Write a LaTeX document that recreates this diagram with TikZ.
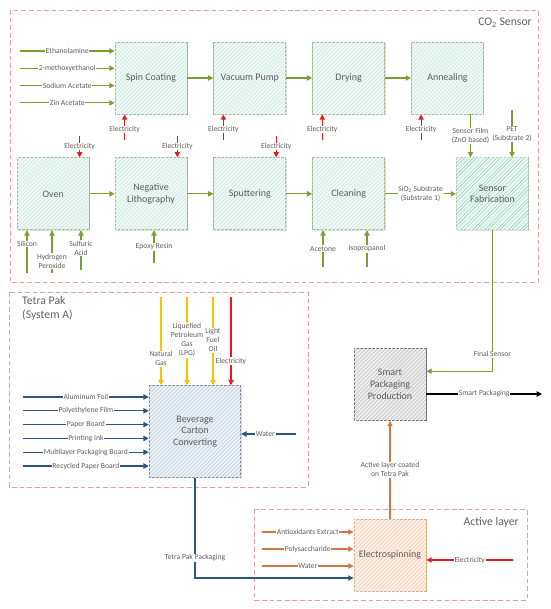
\documentclass[tikz,border=0pt]{standalone}
\usepackage{fontspec}
\setmainfont{Carlito}
\usepackage{tikz}
\usetikzlibrary{positioning,calc,arrows.meta,patterns.meta,shadows}

\definecolor{txtgray}{RGB}{95,95,95}
\definecolor{framered}{RGB}{230,160,160}
\definecolor{grnline}{RGB}{122,160,50}
\definecolor{redline}{RGB}{235,25,30}
\definecolor{bluline}{RGB}{47,85,125}
\definecolor{fuelline}{RGB}{255,192,0}
\definecolor{brnline}{RGB}{205,120,70}
\definecolor{grnfill}{RGB}{218,240,232}
\definecolor{grnbord}{RGB}{160,180,150}
\definecolor{fabfill}{RGB}{165,218,200}
\definecolor{bevfill}{RGB}{208,221,234}
\definecolor{bevbord}{RGB}{120,135,150}
\definecolor{sppfill}{RGB}{212,212,212}
\definecolor{sppbord}{RGB}{110,110,110}
\definecolor{espfill}{RGB}{250,220,200}
\definecolor{espbord}{RGB}{225,170,130}

\tikzset{
  frame/.style={draw=framered, dash pattern=on 4pt off 2.5pt, line width=0.6pt},
  title/.style={text=txtgray, font=\fontsize{10}{12}\selectfont, inner sep=0pt},
  proc/.style={draw=grnbord, line width=0.7pt, fill=grnfill, minimum size=2.16cm, inner sep=1pt,
    align=center, text=txtgray, font=\fontsize{8.5}{10.2}\selectfont,
    drop shadow={shadow xshift=0.8pt, shadow yshift=-0.8pt, opacity=0.25},
    postaction={pattern={Lines[angle=45,distance=2.4pt,line width=0.7pt]}, pattern color=white}},
  fab/.style={proc, fill=fabfill,
    postaction={pattern={Lines[angle=45,distance=1.8pt,line width=0.6pt]}, pattern color=white}},
  bev/.style={proc, draw=bevbord, fill=bevfill, minimum size=2.75cm, font=\fontsize{8.5}{9.8}\selectfont},
  spp/.style={proc, draw=sppbord, fill=sppfill},
  esp/.style={proc, draw=espbord, fill=espfill},
  lbl/.style={fill=white, inner sep=0.6pt, text=txtgray, font=\fontsize{6.5}{7.7}\selectfont, align=center},
  flow/.style={line width=0.9pt, -{Triangle[length=4.5pt,width=4.5pt]}},
  grnarrow/.style={flow, draw=grnline},
  elecarrow/.style={flow, draw=redline},
  bluarrow/.style={flow, draw=bluline},
  fuelarrow/.style={flow, draw=fuelline},
  brnarrow/.style={flow, draw=brnline},
  blkarrow/.style={flow, draw=black},
}

\begin{document}
\begin{tikzpicture}[x=0.03cm,y=-0.03cm]
\useasboundingbox (0,0) rectangle (550,609);

\draw[frame] (10,10) rectangle (538,282);
\draw[frame] (9,292) rectangle (308,487);
\draw[frame] (254,509) rectangle (527,600);
\node[title, anchor=east] (co2t) at (532,23) {CO\textsubscript{2} Sensor};
\node[title, anchor=north west, align=left] (tpt) at (22,296) {Tetra Pak\\(System A)};
\node[title, anchor=east] (alt) at (519,522) {Active layer};

\node[proc] (spin) at (151,78) {Spin Coating};
\node[proc, right=0.78cm of spin] (vac) {Vacuum Pump};
\node[proc, right=0.78cm of vac] (dry) {Drying};
\node[proc, right=0.78cm of dry] (ann) {Annealing};
\node[proc, below=1.29cm of spin] (neg) {Negative\\Lithography};
\node[proc, left=0.75cm of neg] (oven) {Oven};
\node[proc, below=1.29cm of vac] (sput) {Sputtering};
\node[proc, below=1.29cm of dry] (clean) {Cleaning};
\node[fab, right=2.13cm of clean] (fab) {Sensor\\Fabrication};

\node[spp] (spp) at (390,384.5) {Smart\\Packaging\\Production};
\node[bev] (bev) at (195,431.5) {Beverage\\Carton\\Converting};
\node[esp] (esp) at (390,555) {Electrospinning};

\foreach \a/\b in {spin/vac,vac/dry,dry/ann,oven/neg,neg/sput,sput/clean}
  \draw[grnarrow] (\a) -- (\b);
\draw[grnarrow] (clean) -- (fab) node[lbl,midway] {SiO\textsubscript{2} Substrate\\(Substrate 1)};

\foreach \t [count=\i] in {Ethanolamine,2-methoxyethanol,Sodium Acetate,Zin Acetate} {
  \coordinate (sc\i) at (20,{51+(\i-1)*17.3});
  \draw[grnarrow] (sc\i) -- (sc\i -| spin.west) node[lbl,midway] {\t};
}

\foreach \b in {spin,vac,dry,ann} {
  \coordinate (e\b) at ([xshift=0.3cm,yshift=-0.78cm]\b.south west);
  \draw[elecarrow] (e\b) -- (e\b |- \b.south) node[lbl,pos=0.42] {Electricity};
}
\foreach \b in {oven,neg,sput} {
  \coordinate (e\b) at ([xshift=-0.3cm,yshift=0.63cm]\b.north east);
  \draw[elecarrow] (e\b) -- (e\b |- \b.north) node[lbl,pos=0.48] {Electricity};
}

\coordinate (si) at (27,273);
\coordinate (hp) at (52,273);
\coordinate (sa) at (81,270);
\coordinate (ep) at (154,263);
\coordinate (ac) at (323,267);
\coordinate (ip) at (367,267);
\draw[grnarrow] (si) -- (si |- oven.south) node[lbl,pos=0.68] {Silicon};
\draw[grnarrow] (hp) -- (hp |- oven.south) node[lbl,pos=0.28] {Hydrogen\\Peroxide};
\draw[grnarrow] (sa) -- (sa |- oven.south) node[lbl,pos=0.55] {Sulfuric\\Acid};
\draw[grnarrow] (ep) -- (ep |- neg.south) node[lbl,pos=0.5] {Epoxy Resin};
\draw[grnarrow] (ac) -- (ac |- clean.south) node[lbl,pos=0.5] {Acetone};
\draw[grnarrow] (ip) -- (ip |- clean.south) node[lbl,pos=0.5] {Isopropanol};

\draw[grnarrow] ([xshift=0.69cm]ann.south) -- ([xshift=0.69cm]ann.south |- fab.north)
  node[lbl,midway] {Sensor Film\\(ZnO based)};
\coordinate (pet) at (512,110);
\draw[grnarrow] (pet) -- (pet |- fab.north) node[lbl,midway] {PET\\(Substrate 2)};

\draw[grnarrow] (fab.south) |- ([yshift=0.4cm]spp.east) node[lbl,pos=0.44] {Final Sensor};
\coordinate (spout) at (542,394);
\draw[blkarrow] (spout -| spp.east) -- (spout) node[lbl,midway] {Smart Packaging};

\foreach \t [count=\i] in {Aluminum Foil,Polyethylene Film,Paper Board,Printing Ink,Multilayer Packaging Board,Recycled Paper Board} {
  \coordinate (tp\i) at (23,{397+(\i-1)*13.8});
  \draw[bluarrow] (tp\i) -- (tp\i -| bev.west) node[lbl,midway] {\t};
}
\coordinate (bw) at (296,434);
\draw[bluarrow] (bw) -- (bw -| bev.east) node[lbl,pos=0.56] {Water};

\coordinate (ng) at (161,297);
\coordinate (lpg) at (187,297);
\coordinate (lfo) at (213,297);
\coordinate (be) at (231,297);
\draw[fuelarrow] (lpg) -- (lpg |- bev.north) node[lbl,pos=0.49] {Liquefied\\Petroleum\\Gas\\(LPG)};
\draw[fuelarrow] (ng) -- (ng |- bev.north) node[lbl,pos=0.7] {Natural\\Gas};
\draw[fuelarrow] (lfo) -- (lfo |- bev.north) node[lbl,pos=0.49] {Light\\Fuel\\Oil};
\draw[elecarrow] (be) -- (be |- bev.north) node[lbl,pos=0.73] {Electricity};

\foreach \t [count=\i] in {Antioxidants Extract,Polysaccharide,Water} {
  \coordinate (al\i) at (262,{532+(\i-1)*17});
  \draw[brnarrow] (al\i) -- (al\i -| esp.west) node[lbl,midway] {\t};
}
\draw[bluarrow] (bev.south) |- ([yshift=-0.69cm]esp.west) node[lbl,pos=0.4] {Tetra Pak Packaging};
\coordinate (ee) at (513,560);
\draw[elecarrow] (ee) -- (ee -| esp.east) node[lbl,midway] {Electricity};
\draw[brnarrow] (esp) -- (spp) node[lbl,midway] {Active layer coated\\on Tetra Pak};

\end{tikzpicture}
\end{document}
